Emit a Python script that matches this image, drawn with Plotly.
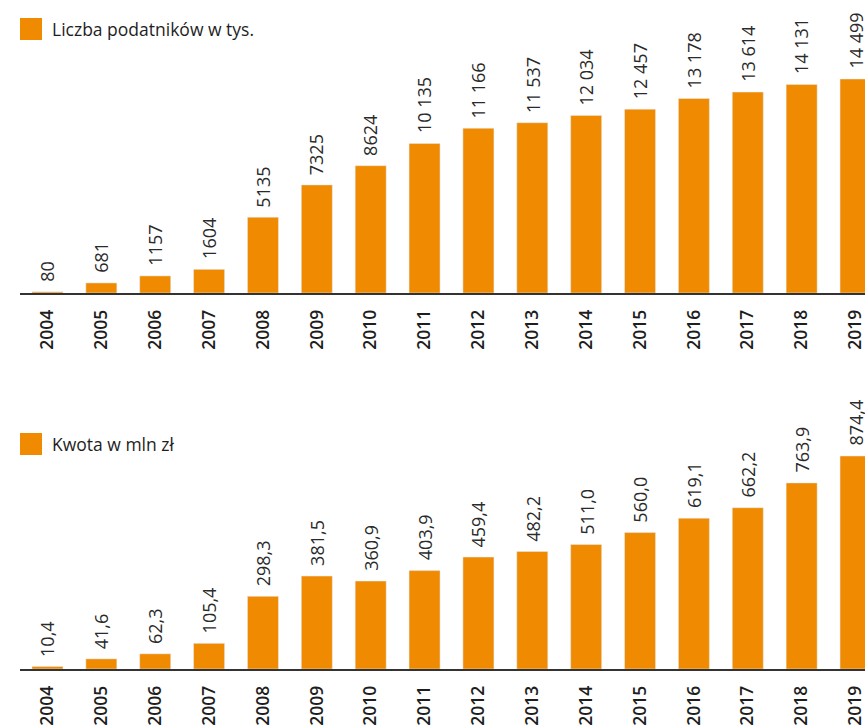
import plotly.graph_objects as go

years = [str(y) for y in range(2004, 2020)]
podatnicy = [80, 681, 1157, 1604, 5135, 7325, 8624, 10135, 11166, 11537,
             12034, 12457, 13178, 13614, 14131, 14499]
kwota = [10.4, 41.6, 62.3, 105.4, 298.3, 381.5, 360.9, 403.9, 459.4, 482.2,
         511.0, 560.0, 619.1, 662.2, 763.9, 874.4]
legend_top = "Liczba podatników w tys."
legend_bottom = "Kwota w mln zł"

W, H = 865, 725
ORANGE = "#F08A00"
TXT = "#1e1e1e"
FONT = "Open Sans"


def fmt_int(v):
    return f"{v:,}".replace(",", " ") if v >= 10000 else str(v)


def fmt_dec(v):
    return f"{v:.1f}".replace(".", ",")


fig = go.Figure()
fig.add_trace(go.Bar(x=years, y=podatnicy, marker_color=ORANGE,
                     xaxis="x", yaxis="y", showlegend=False, hoverinfo="x+y"))
fig.add_trace(go.Bar(x=years, y=kwota, marker_color=ORANGE,
                     xaxis="x2", yaxis="y2", showlegend=False, hoverinfo="x+y"))

spacing = 53.87
x_dom = [20 / W, 1]
x_range = [-0.51, -0.51 + (W - 20) / spacing]

base_top = 293
scale_top = 214 / 14499
base_bot = 669
top_bot = 380
scale_bot = 213 / 874.4

xcommon = dict(type="category", range=x_range, domain=x_dom, showline=True,
               linecolor="#333333", linewidth=1.5, ticks="", tickangle=-90,
               showgrid=False, zeroline=False, ticklabelstandoff=8,
               automargin=False,
               tickfont=dict(family=FONT, size=17.5, color=TXT, weight=600),
               fixedrange=True)

fig.update_layout(
    width=W, height=H,
    margin=dict(l=0, r=0, t=0, b=0, autoexpand=False),
    paper_bgcolor="white", plot_bgcolor="white",
    bargap=1 - 31 / spacing,
    xaxis=dict(anchor="y", **xcommon),
    yaxis=dict(domain=[1 - base_top / H, 1], range=[0, base_top / scale_top],
               visible=False, fixedrange=True, automargin=False),
    xaxis2=dict(anchor="y2", **xcommon),
    yaxis2=dict(domain=[1 - base_bot / H, 1 - top_bot / H],
                range=[0, (base_bot - top_bot) / scale_bot],
                visible=False, fixedrange=True, automargin=False),
)

annotations = []
for i, v in enumerate(podatnicy):
    annotations.append(dict(x=i, y=v, xref="x", yref="y", text=fmt_int(v),
                            textangle=-90, showarrow=False, xanchor="center",
                            yanchor="bottom", yshift=8,
                            font=dict(family=FONT, size=18, color="#2a2a2a")))
for i, v in enumerate(kwota):
    annotations.append(dict(x=i, y=v, xref="x2", yref="y2", text=fmt_dec(v),
                            textangle=-90, showarrow=False, xanchor="center",
                            yanchor="bottom", yshift=8,
                            font=dict(family=FONT, size=18, color="#2a2a2a")))

shapes = []
for label, ytop in [(legend_top, 18), (legend_bottom, 433)]:
    shapes.append(dict(type="rect", xref="paper", yref="paper",
                       x0=20 / W, x1=42 / W, y0=1 - (ytop + 22) / H, y1=1 - ytop / H,
                       fillcolor=ORANGE, line=dict(width=0)))
    annotations.append(dict(x=50 / W, y=1 - (ytop + 11) / H, xref="paper", yref="paper",
                            text=label, showarrow=False, xanchor="left", yanchor="middle",
                            font=dict(family=FONT, size=17.5, color=TXT)))

fig.update_layout(annotations=annotations, shapes=shapes)
fig.write_html("out.html")
